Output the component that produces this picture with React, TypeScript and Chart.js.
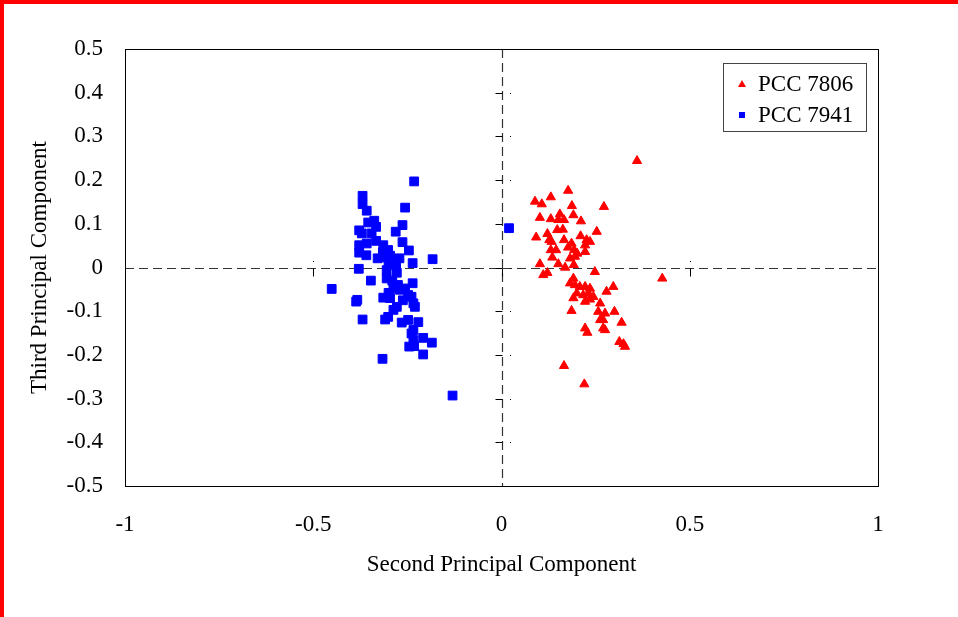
import { useEffect, useRef } from 'react';
import { Chart, registerables } from 'chart.js';

Chart.register(...registerables);

const FONT_FAMILY = '"Liberation Serif", "Times New Roman", serif';

const xTickValues = [-1, -0.5, 0, 0.5, 1];
const xTickLabels = ['-1', '-0.5', '0', '0.5', '1'];
const yTickValues = [-0.5, -0.4, -0.3, -0.2, -0.1, 0, 0.1, 0.2, 0.3, 0.4, 0.5];
const yTickLabels = ['-0.5', '-0.4', '-0.3', '-0.2', '-0.1', '0', '0.1', '0.2', '0.3', '0.4', '0.5'];

const seriesNames = ['PCC 7806', 'PCC 7941'];
const axisTitles = ['Second Principal Component', 'Third Principal Component'];

const pcc7806X = [0.360, 0.177, 0.131, 0.089, 0.107, 0.187, 0.272, 0.102, 0.131, 0.155, 0.166, 0.151, 0.191, 0.211, 0.148, 0.163, 0.253, 0.092, 0.122, 0.127, 0.133, 0.166, 0.210, 0.226, 0.235, 0.222, 0.186, 0.177, 0.193, 0.131, 0.145, 0.201, 0.222, 0.135, 0.182, 0.195, 0.102, 0.151, 0.169, 0.192, 0.122, 0.111, 0.248, 0.427, 0.191, 0.182, 0.195, 0.208, 0.222, 0.235, 0.297, 0.279, 0.200, 0.217, 0.231, 0.244, 0.191, 0.222, 0.235, 0.262, 0.186, 0.257, 0.275, 0.300, 0.270, 0.262, 0.319, 0.270, 0.275, 0.222, 0.228, 0.313, 0.324, 0.328, 0.166, 0.220];
const pcc7806Y = [0.244, 0.176, 0.161, 0.151, 0.145, 0.141, 0.139, 0.114, 0.111, 0.122, 0.109, 0.109, 0.120, 0.106, 0.086, 0.087, 0.082, 0.069, 0.077, 0.063, 0.059, 0.063, 0.072, 0.063, 0.059, 0.051, 0.055, 0.046, 0.040, 0.040, 0.040, 0.032, 0.036, 0.023, 0.021, 0.025, 0.008, 0.008, 0.000, 0.006, -0.012, -0.017, -0.010, -0.025, -0.025, -0.036, -0.040, -0.044, -0.044, -0.048, -0.044, -0.055, -0.059, -0.063, -0.059, -0.067, -0.070, -0.078, -0.073, -0.082, -0.099, -0.101, -0.105, -0.101, -0.120, -0.120, -0.126, -0.139, -0.143, -0.139, -0.149, -0.170, -0.175, -0.181, -0.225, -0.267];

const pcc7941X = [-0.232, -0.369, -0.369, -0.358, -0.256, -0.354, -0.338, -0.333, -0.263, -0.281, -0.378, -0.371, -0.345, -0.263, -0.333, -0.378, -0.358, -0.314, -0.301, -0.246, -0.378, -0.359, -0.329, -0.314, -0.296, -0.271, -0.289, -0.236, -0.183, -0.379, -0.305, -0.278, -0.347, -0.305, -0.451, -0.236, -0.287, -0.270, -0.256, -0.248, -0.239, -0.314, -0.296, -0.383, -0.386, -0.234, -0.230, -0.278, -0.287, -0.301, -0.309, -0.369, -0.265, -0.248, -0.221, -0.234, -0.239, -0.208, -0.185, -0.234, -0.245, -0.232, -0.208, -0.316, -0.130, 0.020, -0.290, -0.275, -0.300, -0.262, -0.315, -0.300, -0.280];
const pcc7941Y = [0.197, 0.164, 0.145, 0.130, 0.137, 0.103, 0.107, 0.093, 0.097, 0.082, 0.085, 0.078, 0.078, 0.058, 0.061, 0.051, 0.055, 0.051, 0.040, 0.039, 0.034, 0.028, 0.021, 0.023, 0.027, 0.021, 0.017, 0.010, 0.019, -0.003, -0.006, -0.012, -0.030, -0.025, -0.049, -0.036, -0.048, -0.051, -0.048, -0.063, -0.067, -0.069, -0.070, -0.074, -0.078, -0.082, -0.090, -0.090, -0.097, -0.113, -0.119, -0.119, -0.126, -0.120, -0.125, -0.143, -0.151, -0.161, -0.172, -0.166, -0.181, -0.180, -0.199, -0.209, -0.293, 0.090, -0.030, -0.040, -0.058, -0.075, 0.035, 0.010, 0.005];

const RED = '#FF0000';
const BLUE = '#0000FF';

function toPoints(xs: number[], ys: number[]) {
  return xs.map((x, i) => ({ x, y: ys[i] }));
}

const decorPlugin = {
  id: 'decor',
  beforeDraw(chart: any) {
    const { ctx, width, height } = chart;
    ctx.save();
    ctx.fillStyle = '#FFFFFF';
    ctx.fillRect(0, 0, width, height);
    ctx.fillStyle = '#FF0000';
    ctx.fillRect(0, 0, width, 4);
    ctx.fillRect(0, 0, 4, height);
    ctx.restore();
  },
  beforeDatasetsDraw(chart: any) {
    const { ctx, chartArea } = chart;
    const xs = chart.scales.x;
    const ys = chart.scales.y;
    const x0 = Math.round(xs.getPixelForValue(0)) + 0.5;
    const y0 = Math.round(ys.getPixelForValue(0)) + 0.5;
    ctx.save();
    ctx.strokeStyle = '#333333';
    ctx.lineWidth = 1.2;
    ctx.setLineDash([9, 5]);
    ctx.beginPath();
    ctx.moveTo(x0, chartArea.top);
    ctx.lineTo(x0, chartArea.bottom);
    ctx.moveTo(chartArea.left, y0);
    ctx.lineTo(chartArea.right, y0);
    ctx.stroke();
    ctx.setLineDash([]);
    ctx.lineWidth = 1;
    ctx.strokeStyle = '#000000';
    ctx.fillStyle = '#000000';
    ctx.beginPath();
    yTickValues.forEach((v) => {
      const py = Math.round(ys.getPixelForValue(v)) + 0.5;
      ctx.moveTo(x0 - 7, py);
      ctx.lineTo(x0, py);
    });
    xTickValues.forEach((v) => {
      const px = Math.round(xs.getPixelForValue(v)) + 0.5;
      ctx.moveTo(px, y0);
      ctx.lineTo(px, y0 + 8);
    });
    ctx.stroke();
    yTickValues.forEach((v) => {
      const py = Math.round(ys.getPixelForValue(v));
      ctx.fillRect(Math.round(x0) + 7, py, 1, 1);
    });
    xTickValues.forEach((v) => {
      const px = Math.round(xs.getPixelForValue(v));
      ctx.fillRect(px, Math.round(y0) - 8, 1, 1);
    });
    ctx.restore();
  },
  afterDatasetsDraw(chart: any) {
    const { ctx, chartArea } = chart;
    ctx.save();
    ctx.strokeStyle = '#000000';
    ctx.lineWidth = 1;
    ctx.strokeRect(
      Math.round(chartArea.left) + 0.5,
      Math.round(chartArea.top) + 0.5,
      Math.round(chartArea.right - chartArea.left),
      Math.round(chartArea.bottom - chartArea.top)
    );
    // legend box
    const boxRight = chartArea.right - 12;
    const boxLeft = boxRight - 143;
    const boxTop = chartArea.top + 14;
    const boxH = 68;
    ctx.fillStyle = '#FFFFFF';
    ctx.fillRect(boxLeft, boxTop, boxRight - boxLeft, boxH);
    ctx.strokeStyle = '#444444';
    ctx.strokeRect(Math.round(boxLeft) + 0.5, Math.round(boxTop) + 0.5, Math.round(boxRight - boxLeft), boxH);
    const ds = chart.data.datasets;
    const mx = boxLeft + 19;
    const tx = boxLeft + 35;
    const rows = [boxTop + 21, boxTop + 52];
    ctx.font = '23px ' + FONT_FAMILY;
    ctx.textBaseline = 'middle';
    ctx.textAlign = 'left';
    ds.forEach((d: any, i: number) => {
      const cy = rows[i];
      ctx.fillStyle = d.backgroundColor;
      if (d.pointStyle === 'triangle') {
        ctx.beginPath();
        ctx.moveTo(mx, cy - 4);
        ctx.lineTo(mx + 4, cy + 3);
        ctx.lineTo(mx - 4, cy + 3);
        ctx.closePath();
        ctx.fill();
      } else {
        ctx.fillRect(mx - 3, cy - 3, 6, 6);
      }
      ctx.fillStyle = '#000000';
      ctx.fillText(d.label, tx, cy + 1);
    });
    ctx.restore();
  },
};

export default function App() {
  const canvasRef = useRef<HTMLCanvasElement | null>(null);

  useEffect(() => {
    if (!canvasRef.current) return;
    const tickFont = { family: FONT_FAMILY, size: 23, lineHeight: 1.2 };
    const chart = new Chart(canvasRef.current, {
      type: 'scatter',
      data: {
        datasets: [
          {
            label: seriesNames[0],
            data: toPoints(pcc7806X, pcc7806Y),
            pointStyle: 'triangle',
            pointRadius: 5.3,
            borderWidth: 1,
            backgroundColor: RED,
            borderColor: RED,
          },
          {
            label: seriesNames[1],
            data: toPoints(pcc7941X, pcc7941Y),
            pointStyle: 'rect',
            pointRadius: 6.2,
            borderWidth: 1,
            backgroundColor: BLUE,
            borderColor: BLUE,
          },
        ],
      },
      options: {
        animation: false,
        responsive: false,
        devicePixelRatio: 1,
        events: [],
        layout: { padding: { top: 49, right: 80, left: 0, bottom: 0 } },
        plugins: {
          legend: { display: false },
          tooltip: { enabled: false },
        },
        scales: {
          x: {
            type: 'linear',
            min: -1,
            max: 1,
            grid: { display: false, drawTicks: false },
            border: { display: false },
            afterBuildTicks: (scale: any) => {
              scale.ticks = xTickValues.map((v) => ({ value: v }));
            },
            afterFit: (scale: any) => {
              scale.height = 131;
            },
            ticks: {
              color: '#000000',
              font: tickFont,
              padding: 25,
              maxRotation: 0,
              autoSkip: false,
              callback: (value: any) => xTickLabels[xTickValues.indexOf(Number(value))] ?? '',
            },
            title: {
              display: true,
              text: axisTitles[0],
              color: '#000000',
              font: tickFont,
              padding: { top: 0, bottom: 38 },
            },
          },
          y: {
            type: 'linear',
            min: -0.5,
            max: 0.5,
            grid: { display: false, drawTicks: false },
            border: { display: false },
            afterBuildTicks: (scale: any) => {
              scale.ticks = yTickValues.map((v) => ({ value: v }));
            },
            afterFit: (scale: any) => {
              scale.width = 125;
            },
            ticks: {
              color: '#000000',
              font: tickFont,
              padding: 22,
              autoSkip: false,
              callback: (value: any) => {
                const idx = yTickValues.findIndex((v) => Math.abs(v - Number(value)) < 1e-9);
                return idx >= 0 ? yTickLabels[idx] : '';
              },
            },
            title: {
              display: true,
              text: axisTitles[1],
              color: '#000000',
              font: tickFont,
              padding: { top: 26, bottom: 0 },
            },
          },
        },
      },
      plugins: [decorPlugin],
    } as any);
    return () => {
      chart.destroy();
    };
  }, []);

  return (
    <div style={{ position: 'fixed', left: 0, top: 0, width: 958, height: 617, background: '#fff' }}>
      <canvas ref={canvasRef} width={958} height={617} style={{ width: 958, height: 617, display: 'block' }} />
    </div>
  );
}
